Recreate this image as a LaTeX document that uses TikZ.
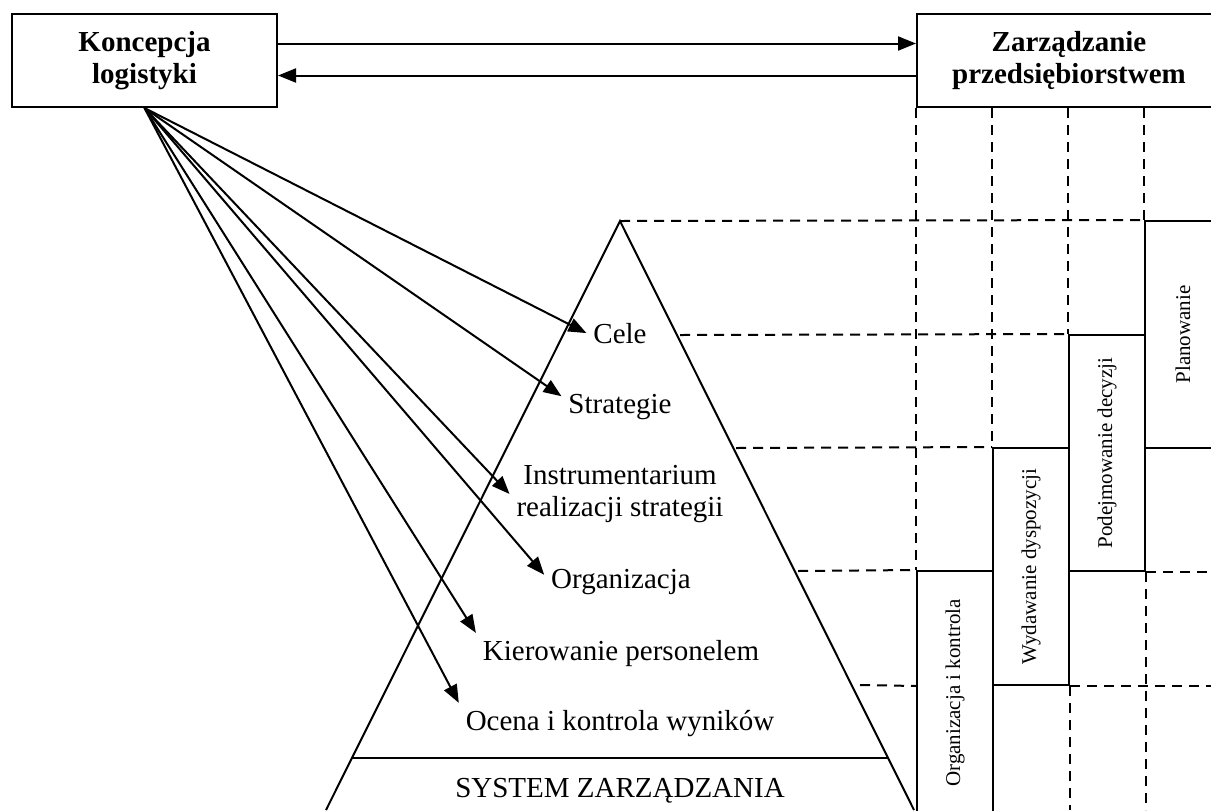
\documentclass[tikz,border=0pt]{standalone}
\usepackage{fontspec}
\setmainfont{Liberation Serif}
\usetikzlibrary{arrows.meta}

\begin{document}
\begin{tikzpicture}[
  x=0.5pt, y=-0.5pt,
  line width=1pt,
  every node/.style={font=\fontsize{14.5}{16}\selectfont},
  box/.style={draw, align=center, font=\fontsize{14.5}{16}\selectfont\bfseries},
  tier/.style={inner sep=3pt},
  stage/.style={draw, minimum width=38pt, inner sep=0pt, font=\fontsize{10.5}{12}\selectfont},
  guide/.style={dash pattern=on 5pt off 3.5pt},
  link/.style={-{Triangle[length=9pt,width=7pt]}}
]
\useasboundingbox (0,0) rectangle (1211,810);

% boxes at the top
\node[box, minimum width=132.5pt, minimum height=46.5pt] (koncepcja) at (144.5,60.5) {Koncepcja\\logistyki};
\node[box, minimum width=152pt, minimum height=46.5pt] (zarzadzanie) at (1069,60.5) {Zarządzanie\\przedsiębiorstwem};
\draw[link] ([yshift=8.5pt]koncepcja.east) -- ([yshift=8.5pt]zarzadzanie.west);
\draw[link] ([yshift=-7.5pt]zarzadzanie.west) -- ([yshift=-7.5pt]koncepcja.east);

% pyramid
\coordinate (apex) at (620,221);
\coordinate (left) at (326,810);
\coordinate (right) at (914,810);
\draw (left) -- (apex) -- (right);
\draw (352,758) -- (888,758);

\node[tier, anchor=base] (cele) at (620,343) {Cele};
\node[tier, anchor=base] (strategie) at (620,413) {Strategie};
\node[tier, align=center] (instr) at (620,494) {Instrumentarium\\realizacji strategii};
\node[tier, anchor=base] (organizacja) at (621,588) {Organizacja};
\node[tier, anchor=base] (kierowanie) at (621,660) {Kierowanie personelem};
\node[tier, anchor=base] (ocena) at (620,730) {Ocena i kontrola wyników};
\node[anchor=base] (system) at (620,797) {SYSTEM ZARZĄDZANIA};

\foreach \t/\a in {cele/west, strategie/170, instr/west, organizacja/175, kierowanie/north west, ocena/north west}
  \draw[link] (koncepcja.south) -- (\t.\a);

% management functions
\node[stage, minimum height=113.5pt] (plan) at (1183,334.5) {\rotatebox{90}{Planowanie}};
\node[stage, minimum height=118pt] (podej) at (1107,453) {\rotatebox{90}{Podejmowanie decyzji}};
\node[stage, minimum height=118.5pt] (wydaw) at (1031,566.5) {\rotatebox{90}{Wydawanie dyspozycji}};
\node[stage, minimum height=122pt] (organ) at (955,693) {\rotatebox{90}{Organizacja i kontrola}};

% vertical guides
\draw[guide] (zarzadzanie.south west) -- (organ.north west);
\draw[guide] (wydaw.north west |- zarzadzanie.south) -- (wydaw.north west);
\draw[guide] (podej.north west |- zarzadzanie.south) -- (podej.north west);
\draw[guide] (plan.north west |- zarzadzanie.south) -- (plan.north west);
\draw[guide] (wydaw.south east) -- (wydaw.south east |- right);
\draw[guide] (podej.south east) -- (podej.south east |- right);

% horizontal guides
\draw[guide] (apex) -- (plan.north west);
\draw[guide] (680,335) -- (podej.north west);
\draw[guide] (736,448) -- (wydaw.north west);
\draw[guide] (798,571) -- (organ.north west);
\draw[guide] (860,685) -- (organ.west |- wydaw.south);
\draw[guide] (podej.south east) -- (podej.south east -| zarzadzanie.east);
\draw[guide] (wydaw.south east) -- (wydaw.south east -| zarzadzanie.east);
\end{tikzpicture}
\end{document}
